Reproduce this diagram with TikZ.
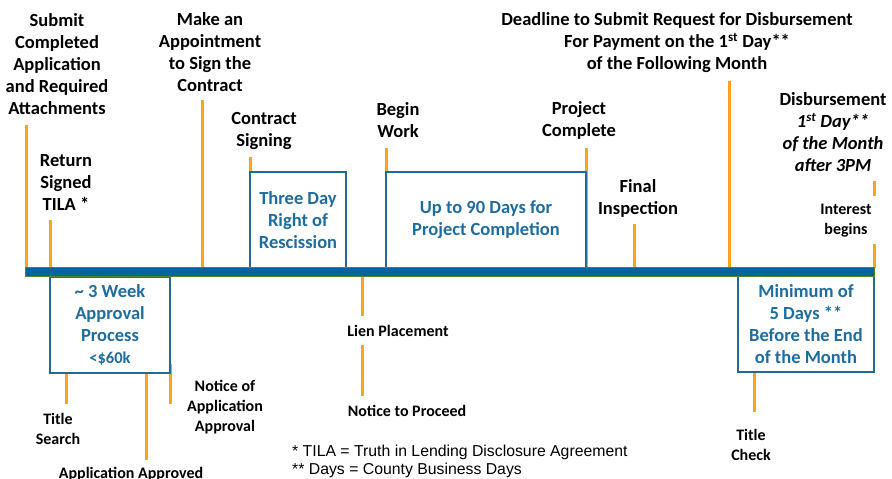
\documentclass[tikz,border=0pt]{standalone}
\usepackage{fontspec}
\setmainfont{Carlito}
\newfontfamily\arialf{Liberation Sans}
\definecolor{barblue}{RGB}{0,102,153}
\definecolor{bargreen}{RGB}{84,130,53}
\definecolor{boxblue}{RGB}{31,106,153}
\definecolor{txtblue}{RGB}{31,108,158}
\definecolor{tickorange}{RGB}{255,163,26}
\begin{document}
\begin{tikzpicture}[x=1pt,y=-1pt,
  lbl/.style={font=\bfseries\fontsize{18.5}{22}\selectfont, align=center, inner sep=0pt},
  sml/.style={font=\bfseries\fontsize{16}{20}\selectfont, align=center, inner sep=0pt},
  boxnode/.style={draw=boxblue, line width=2pt, fill=white, inner sep=0pt,
     text=txtblue, font=\bfseries\fontsize{18.5}{22}\selectfont, align=center},
  tick/.style={draw=tickorange, line width=3pt}]
\useasboundingbox[fill=white] (0,0) rectangle (892,479);

% ticks above the bar
\draw[tick] (26,125) -- (26,268);
\draw[tick] (50,220) -- (50,268);
\draw[tick] (202,100) -- (202,268);
\draw[tick] (250,157) -- (250,268);
\draw[tick] (386,148) -- (386,268);
\draw[tick] (586,148) -- (586,268);
\draw[tick] (634,224) -- (634,268);
\draw[tick] (729,81) -- (729,268);
\draw[tick] (874,181) -- (874,196);
\draw[tick] (874,244) -- (874,268);
% ticks below the bar
\draw[tick] (362,276) -- (362,316);
\draw[tick] (362,345) -- (362,396);
\draw[tick] (66,372) -- (66,404);
\draw[tick] (146,372) -- (146,460);
\draw[tick] (170,364) -- (170,404);
\draw[tick] (754,372) -- (754,412);

% boxes
\node[boxnode, minimum width=96pt, minimum height=96pt] (rescind) at (298,220)
  {Three Day\\Right of\\Rescission};
\node[boxnode, minimum width=200pt, minimum height=96pt] (project) at (486,220)
  {Up to 90 Days for\\Project Completion};
\node[boxnode, minimum width=120pt, minimum height=96pt] (approval) at (110,325)
  {\textasciitilde\ 3 Week\\Approval\\Process\\{\fontsize{16.5}{19}\selectfont\textless\$60k}};
\node[boxnode, minimum width=136pt, minimum height=96pt] (minimum) at (806,324)
  {Minimum of\\5 Days **\\Before the End\\of the Month};

% timeline bar
\node[fill=barblue, draw=bargreen, line width=0.8pt, minimum width=849pt,
  minimum height=8.5pt, inner sep=0pt] (bar) at (449.5,272) {};

% labels above
\node[lbl] (submit) at (57,64) {Submit\\Completed\\Application\\and Required\\Attachments};
\node[lbl] (tila) at (66,183) {Return\\Signed\\TILA *};
\node[lbl] (appoint) at (210,52) {Make an\\Appointment\\to Sign the\\Contract};
\node[lbl] (signing) at (264,131) {Contract\\Signing};
\node[lbl] (begin) at (398,120) {Begin\\Work};
\node[lbl] (complete) at (579,120) {Project\\Complete};
\node[lbl] (final) at (638,198) {Final\\Inspection};
\node[lbl] (deadline) at (677,43) {Deadline to Submit Request for Disbursement\\For Payment on the 1\textsuperscript{st} Day**\\of the Following Month};
\node[lbl] (disb) at (833,132) {Disbursement\\\itshape 1\textsuperscript{st} Day**\\\itshape of the Month\\\itshape after 3PM};
\node[sml] (interest) at (846,221) {Interest\\begins};

% labels below
\node[sml] (lien) at (398,331) {Lien Placement};
\node[sml] (proceed) at (407,411) {Notice to Proceed};
\node[sml] (search) at (58,429) {Title\\Search};
\node[sml] (approved) at (131,474) {Application Approved};
\node[sml] (notice) at (225,407) {Notice of\\Application\\Approval};
\node[sml] (check) at (751,445) {Title\\Check};

% footnotes
\node[inner sep=0pt, anchor=west, align=left, font=\arialf\fontsize{15.8}{18}\selectfont] (notes) at (292,461)
  {* TILA = Truth in Lending Disclosure Agreement\\** Days = County Business Days};
\end{tikzpicture}
\end{document}
